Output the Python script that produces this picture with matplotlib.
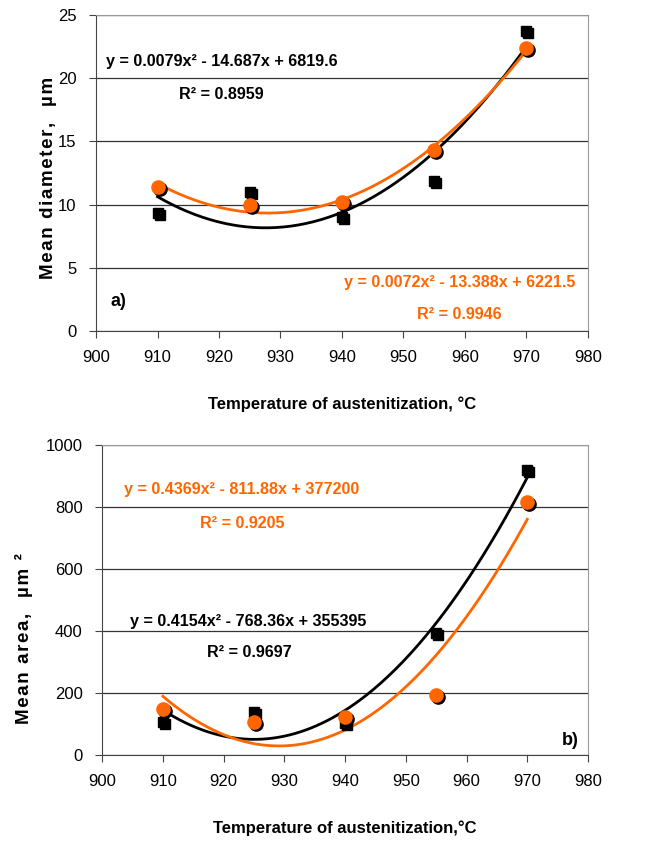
import numpy as np
import matplotlib
matplotlib.use('Agg')
import matplotlib.pyplot as plt
from matplotlib.transforms import offset_copy

plt.rcParams['font.family'] = ['Liberation Sans', 'DejaVu Sans']

#%% data
temp = [910, 925, 940, 955, 970]

# a) mean diameter, um
diam_sq = [9.3, 11.0, 9.0, 11.9, 23.7]     # black squares
diam_ci = [11.4, 10.0, 10.2, 14.3, 22.4]   # orange circles

# b) mean area, um^2
area_sq = [107, 140, 102, 392, 919]
area_ci = [147, 107, 124, 194, 817]

eq_a_black = ['y = 0.0079x² - 14.687x + 6819.6', 'R² = 0.8959']
eq_a_orange = ['y = 0.0072x² - 13.388x + 6221.5', 'R² = 0.9946']
eq_b_orange = ['y = 0.4369x² - 811.88x + 377200', 'R² = 0.9205']
eq_b_black = ['y = 0.4154x² - 768.36x + 355395', 'R² = 0.9697']

orange = '#FF6600'
hs = '\u200a'  # hair space -> letter spacing of y labels
fig = plt.figure(figsize=(6.72, 8.46), dpi=100)


def spaced(s):
    return hs.join(s)


def panel(ax, ysq, yci, ymax, ystep):
    xs = np.linspace(910, 970, 200)
    # trend lines (2nd order poly, like excel)
    ax.plot(xs, np.polyval(np.polyfit(temp, ysq, 2), xs), color='k', lw=2, zorder=3)
    ax.plot(xs, np.polyval(np.polyfit(temp, yci, 2), xs), color=orange, lw=2, zorder=3)
    # markers with black shadow
    sh = offset_copy(ax.transData, fig=fig, x=2, y=-2, units='dots')
    ax.plot(temp, ysq, 's', color='k', ms=7.5, transform=sh, zorder=4)
    ax.plot(temp, ysq, 's', color='k', ms=7.5, zorder=5)
    ax.plot(temp, yci, 'o', color='k', ms=9.5, transform=sh, zorder=4)
    ax.plot(temp, yci, 'o', color=orange, ms=9.5, zorder=5)

    ax.set_xlim(900, 980)
    ax.set_ylim(0, ymax)
    ax.set_xticks(np.arange(900, 981, 10))
    ax.set_yticks(np.arange(0, ymax + 1, ystep))
    ax.grid(axis='y', color='#333333', lw=0.9)
    ax.set_axisbelow(True)
    ax.tick_params(direction='out', length=5, labelsize=12, color='#444444')
    ax.tick_params(axis='x', pad=9)
    ax.tick_params(axis='y', pad=9)
    for s in ['top', 'right']:
        ax.spines[s].set_color('#999999')
    for s in ['left', 'bottom']:
        ax.spines[s].set_color('#444444')


### a) ###
ax1 = fig.add_axes([0.1429, 0.6087, 0.732, 0.3736])
panel(ax1, diam_sq, diam_ci, 25, 5)
ax1.set_ylabel(spaced('Mean diameter,') + '   ' + spaced('µm'), fontsize=13.5, fontweight='bold')
ax1.yaxis.set_label_coords(-0.08, 0.484)
ax1.set_xlabel('Temperature of austenitization, °C', fontsize=12, fontweight='bold', labelpad=22)
ax1.text(901.7, 21.3, eq_a_black[0], fontsize=11.6, fontweight='bold', va='center', ha='left')
ax1.text(920.4, 18.7, eq_a_black[1], fontsize=11.6, fontweight='bold', va='center', ha='center')
ax1.text(959.1, 3.8, eq_a_orange[0], fontsize=11.6, fontweight='bold', va='center', ha='center', color=orange)
ax1.text(959.1, 1.3, eq_a_orange[1], fontsize=11.6, fontweight='bold', va='center', ha='center', color=orange)
ax1.text(902.3, 2.3, 'a)', fontsize=13, fontweight='bold', va='center', ha='left')

### b) ###
ax2 = fig.add_axes([0.152, 0.1076, 0.723, 0.3664])
panel(ax2, area_sq, area_ci, 1000, 200)
ax2.set_ylabel(spaced('Mean area,') + '   ' + spaced('µm ²'), fontsize=13.5, fontweight='bold')
ax2.yaxis.set_label_coords(-0.142, 0.374)
ax2.set_xlabel('Temperature of austenitization,°C', fontsize=12, fontweight='bold', labelpad=22)
ax2.text(923.0, 855, eq_b_orange[0], fontsize=11.6, fontweight='bold', va='center', ha='center', color=orange)
ax2.text(923.1, 748, eq_b_orange[1], fontsize=11.6, fontweight='bold', va='center', ha='center', color=orange)
ax2.text(924.1, 430, eq_b_black[0], fontsize=11.6, fontweight='bold', va='center', ha='center')
ax2.text(924.2, 329, eq_b_black[1], fontsize=11.6, fontweight='bold', va='center', ha='center')
ax2.text(978.5, 48, 'b)', fontsize=13, fontweight='bold', va='center', ha='right')

plt.savefig('out.png', dpi=100)
